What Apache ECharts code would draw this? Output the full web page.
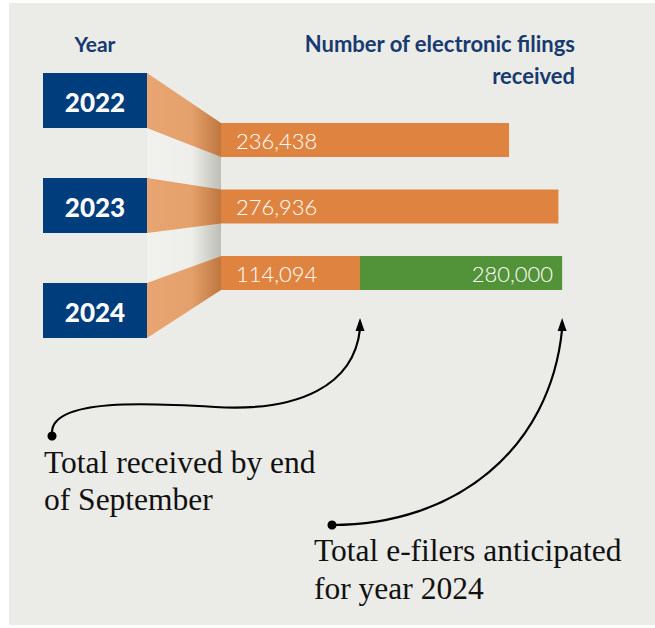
<!DOCTYPE html>
<html>
<head>
<meta charset="utf-8">
<script src="https://cdn.jsdelivr.net/npm/echarts@6/dist/echarts.min.js"></script>
<style>
html,body{margin:0;padding:0;background:#ffffff;}
#chart{width:655px;height:628px;}
</style>
</head>
<body>
<div id="chart"></div>
<script>
// ---- data ----
const years = ['2022', '2023', '2024'];
const received = [236438, 276936, 114094];
const anticipated = ['-', '-', 280000];
const yearHeader = 'Year';
const valueHeader = 'Number of electronic filings\nreceived';
const noteReceived = 'Total received by end\nof September';
const noteAnticipated = 'Total e-filers anticipated\nfor year 2024';

// ---- styles ----
const PANEL = '#ebebe7';
const NAVY = '#003d7c';
const NAVY_TEXT = '#173a70';
const ORANGE = '#df8440';
const GREEN = '#529239';
const SERIF = '"Liberation Serif", "DejaVu Serif", serif';
const BAR_H = 34;
const BOX_H = 55;

const fmt = v => Number(v).toLocaleString('en-US');

const chart = echarts.init(document.getElementById('chart'), null, {renderer: 'svg'});

chart.setOption({
  backgroundColor: PANEL,
  animation: false,
  grid: [
    {left: 221, top: 106.75, width: 365.5, height: 199.5},
    {left: 43, top: 48, width: 104, height: 315}
  ],
  xAxis: [
    {type: 'value', gridIndex: 0, min: 0, max: 300000, show: false},
    {type: 'value', gridIndex: 1, min: 0, max: 1, show: false}
  ],
  yAxis: [
    {type: 'category', gridIndex: 0, data: years, inverse: true, show: false},
    {type: 'category', gridIndex: 1, data: years, inverse: true, show: false}
  ],
  series: [
    {
      name: 'Anticipated', type: 'bar', xAxisIndex: 0, yAxisIndex: 0,
      data: anticipated, barWidth: BAR_H, barGap: '-100%',
      itemStyle: {color: GREEN},
      label: {show: true, position: 'insideRight', distance: 9, color: '#fff',
        fontFamily: 'Lato', fontWeight: 300, fontSize: 22,
        formatter: p => fmt(p.value)}
    },
    {
      name: 'Received', type: 'bar', xAxisIndex: 0, yAxisIndex: 0,
      data: received, barWidth: BAR_H, barGap: '-100%',
      itemStyle: {color: ORANGE},
      label: {show: true, position: 'insideLeft', distance: 15, color: '#fff',
        fontFamily: 'Lato', fontWeight: 300, fontSize: 22,
        formatter: p => fmt(p.value)}
    },
    {
      name: 'Year', type: 'custom', xAxisIndex: 1, yAxisIndex: 1,
      data: years.map(y => [0, y]),
      encode: {x: 0, y: 1},
      renderItem: function (params, api) {
        const cs = params.coordSys;
        const c = api.coord([0, api.value(1)]);
        return {
          type: 'group',
          children: [
            {type: 'rect', shape: {x: cs.x, y: c[1] - BOX_H / 2, width: cs.width, height: BOX_H},
              style: {fill: NAVY}},
            {type: 'text', style: {text: years[params.dataIndex], x: cs.x + cs.width / 2, y: c[1] + 1,
              align: 'center', verticalAlign: 'middle', fill: '#ffffff',
              fontFamily: 'Lato', fontWeight: 900, fontSize: 26}}
          ]
        };
      }
    }
  ]
});

// ---- decorations derived from the axes ----
const boxRight = chart.convertToPixel({xAxisIndex: 1}, 1);
const barLeft = chart.convertToPixel({xAxisIndex: 0}, 0);
const boxY = years.map(y => chart.convertToPixel({yAxisIndex: 1}, y));
const barY = years.map(y => chart.convertToPixel({yAxisIndex: 0}, y));
const recvEnd = chart.convertToPixel({xAxisIndex: 0}, received[2]);
const antEnd = chart.convertToPixel({xAxisIndex: 0}, anticipated[2]);
const tipY = barY[2] + BAR_H / 2 + 28;

const ribbonFill = {type: 'linear', x: 0, y: 0, x2: 1, y2: 0, colorStops: [
  {offset: 0, color: '#e8a571'}, {offset: 0.6, color: '#e4a16b'}, {offset: 1, color: '#bf763f'}]};
const stripFill = {type: 'linear', x: 0, y: 0, x2: 1, y2: 0, colorStops: [
  {offset: 0, color: '#f1f1ee'}, {offset: 0.6, color: '#eeeeea'}, {offset: 1, color: '#bebeb7'}]};

const graphics = [
  {type: 'rect', shape: {x: 0, y: 0, width: 9, height: 628}, style: {fill: '#fff'}, z: 100},
  {type: 'rect', shape: {x: 0, y: 0, width: 655, height: 3}, style: {fill: '#fff'}, z: 100},
  {type: 'rect', shape: {x: 0, y: 625, width: 655, height: 3}, style: {fill: '#fff'}, z: 100},
  {type: 'polygon', shape: {points: [
    [boxRight, boxY[0] + BOX_H / 2], [barLeft, barY[0] + BAR_H / 2],
    [barLeft, barY[2] - BAR_H / 2], [boxRight, boxY[2] - BOX_H / 2]]},
    style: {fill: stripFill}}
];
years.forEach((y, i) => {
  graphics.push({type: 'polygon', shape: {points: [
    [boxRight, boxY[i] - BOX_H / 2], [barLeft, barY[i] - BAR_H / 2],
    [barLeft, barY[i] + BAR_H / 2], [boxRight, boxY[i] + BOX_H / 2]]},
    style: {fill: ribbonFill}});
});

graphics.push({type: 'text', style: {text: yearHeader, x: 95, y: 43, align: 'center', verticalAlign: 'middle',
  fill: NAVY_TEXT, fontFamily: 'Lato', fontWeight: 700, fontSize: 21}});
graphics.push({type: 'text', style: {text: valueHeader, x: 575, y: 59, align: 'right', verticalAlign: 'middle',
  fill: NAVY_TEXT, fontFamily: 'Lato', fontWeight: 700, fontSize: 22, lineHeight: 32}});

function arrowHead(x, y) {
  return {type: 'polygon', shape: {points: [[x, y], [x + 4.5, y + 13], [x - 4.5, y + 13]]}, style: {fill: '#000'}};
}
const LINE = {fill: 'none', stroke: '#000', lineWidth: 2.2};
graphics.push({type: 'bezierCurve', shape: {x1: 52, y1: 432, cpx1: 53, cpy1: 398, cpx2: 150, cpy2: 403, x2: 215, y2: 407}, style: LINE});
graphics.push({type: 'bezierCurve', shape: {x1: 215, y1: 407, cpx1: 300, cpy1: 412, cpx2: recvEnd - 6, cpy2: 385, x2: recvEnd, y2: tipY + 11}, style: LINE});
graphics.push(arrowHead(recvEnd, tipY));
graphics.push({type: 'circle', shape: {cx: 52, cy: 436, r: 4.5}, style: {fill: '#000'}});

graphics.push({type: 'bezierCurve', shape: {x1: 332, y1: 525, cpx1: 455, cpy1: 525, cpx2: antEnd - 12, cpy2: 450, x2: antEnd, y2: tipY + 11}, style: LINE});
graphics.push(arrowHead(antEnd, tipY));
graphics.push({type: 'circle', shape: {cx: 332, cy: 525, r: 4.5}, style: {fill: '#000'}});

graphics.push({type: 'text', style: {text: noteReceived, x: 44, y: 481, align: 'left', verticalAlign: 'middle',
  fill: '#111', fontFamily: SERIF, fontSize: 31.5, lineHeight: 37}});
graphics.push({type: 'text', style: {text: noteAnticipated, x: 314, y: 569.5, align: 'left', verticalAlign: 'middle',
  fill: '#111', fontFamily: SERIF, fontSize: 31.5, lineHeight: 38}});

chart.setOption({graphic: graphics});
</script>
</body>
</html>
